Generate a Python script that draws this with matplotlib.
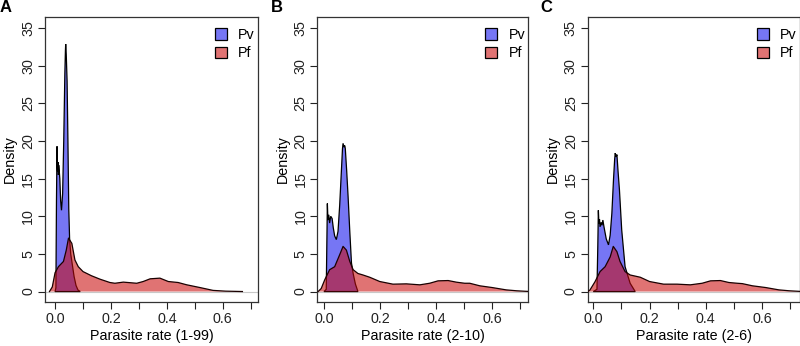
import matplotlib
matplotlib.use("Agg")
import matplotlib.pyplot as plt
from matplotlib.patches import Patch

plt.rcParams["font.family"] = ["Liberation Sans", "DejaVu Sans"]

# density curves, one (x, density) list per panel and species
pv_a_x = [0.0, 0.003, 0.005, 0.007, 0.008, 0.009, 0.011, 0.012, 0.013, 0.015, 0.017, 0.020, 0.023,
          0.027, 0.031, 0.035, 0.037, 0.038, 0.039, 0.040, 0.043, 0.046, 0.049, 0.052, 0.056, 0.062,
          0.068, 0.075, 0.082, 0.090]
pv_a_y = [0.0, 0.5, 12.0, 19.3, 17.0, 16.0, 17.2, 15.5, 16.8, 16.0, 15.0, 12.0, 10.8,
          13.0, 20.0, 29.0, 32.0, 32.9, 32.2, 31.5, 28.0, 20.0, 11.0, 7.0, 5.0, 3.5,
          2.0, 0.8, 0.2, 0.0]
pf_a_x = [-0.020, -0.010, 0.0, 0.012, 0.030, 0.040, 0.048, 0.060, 0.071, 0.083, 0.100, 0.130,
          0.160, 0.196, 0.214, 0.244, 0.292, 0.315, 0.340, 0.375, 0.405, 0.440, 0.470, 0.518,
          0.565, 0.610, 0.670]
pf_a_y = [0.0, 0.6, 2.5, 3.3, 4.0, 5.5, 7.1, 6.4, 4.2, 3.3, 2.65, 2.1,
          1.65, 1.2, 1.1, 1.25, 1.1, 1.33, 1.69, 1.78, 1.33, 1.2, 0.9, 0.53,
          0.15, 0.05, 0.0]

pv_b_x = [0.0, 0.008, 0.010, 0.012, 0.014, 0.017, 0.020, 0.024, 0.029, 0.033, 0.038, 0.044,
          0.050, 0.056, 0.062, 0.066, 0.068, 0.071, 0.074, 0.076, 0.081, 0.086, 0.092, 0.098,
          0.104, 0.112, 0.121]
pv_b_y = [0.0, 0.3, 6.0, 11.7, 9.5, 10.2, 9.1, 10.0, 9.7, 8.5, 7.4, 6.9,
          8.0, 11.5, 16.0, 19.0, 19.7, 19.2, 19.4, 19.0, 16.0, 12.6, 8.0, 3.8,
          2.4, 1.0, 0.0]
pf_b_x = [-0.021, -0.010, 0.0025, 0.020, 0.038, 0.056, 0.068, 0.080, 0.092, 0.104, 0.121, 0.139,
          0.163, 0.199, 0.246, 0.294, 0.342, 0.377, 0.407, 0.443, 0.473, 0.502, 0.520, 0.556,
          0.600, 0.650, 0.687, 0.720, 0.740]
pf_b_y = [0.0, 0.4, 1.55, 2.9, 3.3, 4.9, 6.0, 5.5, 4.0, 2.9, 2.4, 2.2,
          1.9, 1.33, 0.98, 1.02, 0.89, 1.1, 1.42, 1.46, 1.24, 1.1, 1.1, 0.76,
          0.53, 0.22, 0.1, 0.03, 0.0]

pv_c_x = [0.0, 0.013, 0.016, 0.018, 0.020, 0.022, 0.024, 0.028, 0.031, 0.034, 0.038, 0.046,
          0.054, 0.060, 0.066, 0.072, 0.076, 0.078, 0.081, 0.084, 0.088, 0.093, 0.101, 0.113,
          0.131, 0.149]
pv_c_y = [0.0, 0.3, 6.0, 10.8, 9.0, 9.6, 8.6, 9.2, 8.8, 9.5, 8.6, 7.0,
          6.2, 7.5, 10.4, 15.0, 17.6, 18.4, 17.9, 18.2, 16.0, 13.5, 8.2, 3.3,
          1.1, 0.0]
pf_c_x = [-0.020, -0.012, 0.006, 0.024, 0.042, 0.060, 0.071, 0.084, 0.095, 0.113, 0.131, 0.167,
          0.200, 0.250, 0.298, 0.345, 0.387, 0.417, 0.452, 0.482, 0.512, 0.530, 0.566, 0.613,
          0.660, 0.696, 0.730, 0.750]
pf_c_y = [0.0, 0.2, 1.3, 2.65, 3.3, 4.6, 6.0, 5.3, 4.0, 2.65, 2.2, 1.9,
          1.33, 0.98, 0.98, 0.89, 1.1, 1.42, 1.46, 1.2, 1.1, 1.05, 0.76, 0.53,
          0.22, 0.1, 0.03, 0.0]

panel_letters = ["A", "B", "C"]
x_labels = ["Parasite rate (1-99)", "Parasite rate (2-10)", "Parasite rate (2-6)"]
legend_labels = ["Pv", "Pf"]
y_ticks = [0, 5, 10, 15, 20, 25, 30, 35]
x_ticks = [0.0, 0.1, 0.2, 0.3, 0.4, 0.5, 0.6, 0.7]
x_tick_labels = ["0.0", "", "0.2", "", "0.4", "", "0.6", ""]

PV_COLOR = "#7676F4"
PF_COLOR = "#C90A0A"
PF_ALPHA = 0.57
FONT_SIZE = 10.3

panels = [
    (pv_a_x, pv_a_y, pf_a_x, pf_a_y),
    (pv_b_x, pv_b_y, pf_b_x, pf_b_y),
    (pv_c_x, pv_c_y, pf_c_x, pf_c_y),
]
# axes boxes in figure fractions and x limits per panel
boxes = [
    (0.05625, 0.127, 0.266, 0.824),
    (0.3966, 0.127, 0.2634, 0.824),
    (0.7346, 0.127, 0.2650, 0.824),
]
x_limits = [(-0.036, 0.725), (-0.024, 0.728), (-0.020, 0.734)]

fig = plt.figure(figsize=(8.0, 3.46), dpi=100)

for i, (pv_x, pv_y, pf_x, pf_y) in enumerate(panels):
    ax = fig.add_axes(boxes[i])
    ax.axhline(0, color="#C8C8C8", lw=0.8, zorder=0)
    ax.fill(pv_x, pv_y, facecolor=PV_COLOR, edgecolor="black", lw=0.9, zorder=2)
    ax.fill(pf_x, pf_y, facecolor=PF_COLOR, alpha=PF_ALPHA, edgecolor="none", zorder=3)
    ax.plot(pf_x, pf_y, color="#1a0000", lw=0.9, zorder=4)

    ax.set_xlim(*x_limits[i])
    ax.set_ylim(-1.4, 36.5)
    ax.set_yticks(y_ticks)
    ax.set_yticklabels([str(v) for v in y_ticks], rotation=90, va="center")
    ax.set_xticks(x_ticks)
    ax.set_xticklabels(x_tick_labels)
    ax.tick_params(axis="both", direction="out", length=5, width=0.8, labelsize=FONT_SIZE,
                   colors="#222222")
    ax.tick_params(axis="y", pad=2)
    ax.tick_params(axis="x", pad=2.5)
    for spine in ax.spines.values():
        spine.set_linewidth(0.9)
        spine.set_color("#333333")

    ax.set_xlabel(x_labels[i], fontsize=FONT_SIZE, labelpad=2)
    ax.set_ylabel("Density", fontsize=FONT_SIZE, labelpad=3)

    handles = [
        Patch(facecolor=PV_COLOR, edgecolor="black", lw=0.9),
        Patch(facecolor=(0.88, 0.45, 0.45), edgecolor="black", lw=0.9),
    ]
    ax.legend(handles, legend_labels, loc="upper right", bbox_to_anchor=(1.02, 0.986),
              frameon=False, fontsize=FONT_SIZE, handlelength=0.85, handleheight=0.85,
              handletextpad=0.8, labelspacing=0.3, borderaxespad=0.1)

    ax.text(-0.212 if i == 0 else -0.222, 1.058, panel_letters[i], transform=ax.transAxes,
            fontsize=12, fontweight="bold", ha="left", va="top")

fig.savefig("out.png", dpi=100)
